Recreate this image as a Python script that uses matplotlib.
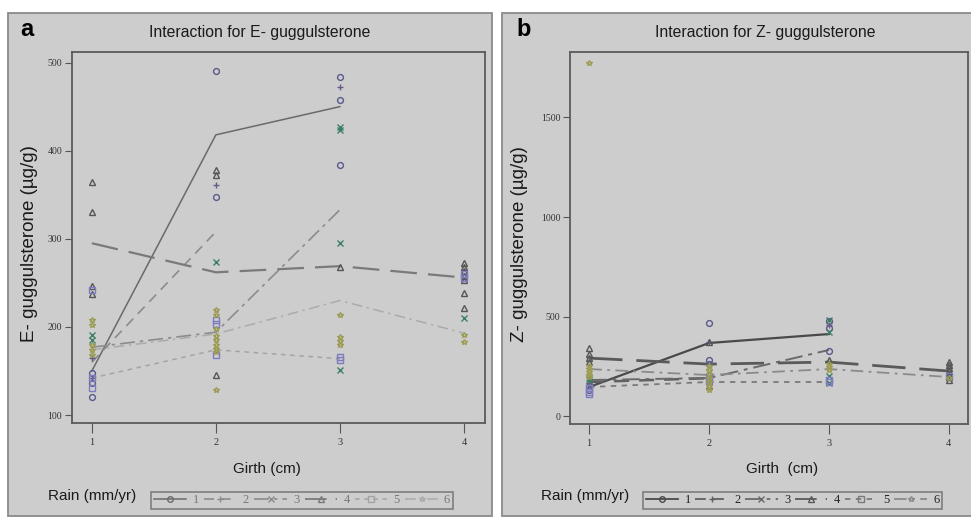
import matplotlib
matplotlib.use("Agg")
import matplotlib.pyplot as plt
from matplotlib.patches import Rectangle
from matplotlib.lines import Line2D

# ---------------- data ----------------
GIRTH = [1, 2, 3, 4]
RAIN_LABELS = ["1", "2", "3", "4", "5", "6"]

# E-guggulsterone: mean lines per rain level (girth levels, means)
E_MEAN_X = [[1, 2, 3], [1, 2], [1, 2, 3], [1, 2, 3, 4], [1, 2, 3], [1, 2, 3, 4]]
E_MEAN_R1 = [150, 418, 450]
E_MEAN_R2 = [160, 308]
E_MEAN_R3 = [177, 194, 333]
E_MEAN_R4 = [295, 262, 269, 256]
E_MEAN_R5 = [142, 174, 164]
E_MEAN_R6 = [174, 192, 230, 193]

# E-guggulsterone: individual observations per rain level
E_OBS_R1_X = [1, 1, 1, 2, 2, 3, 3, 3]
E_OBS_R1_Y = [148, 136, 120, 490, 348, 484, 457, 384]
E_OBS_R2_X = [1, 1, 2, 3]
E_OBS_R2_Y = [165, 142, 361, 472]
E_OBS_R3_X = [1, 1, 2, 3, 3, 3, 3, 4]
E_OBS_R3_Y = [191, 185, 274, 427, 424, 295, 151, 210]
E_OBS_R4_X = [1, 1, 1, 1, 2, 2, 2, 3, 4, 4, 4, 4, 4, 4, 4]
E_OBS_R4_Y = [364, 330, 246, 237, 378, 372, 145, 268, 273, 268, 263, 258, 253, 238, 222]
E_OBS_R5_X = [1, 1, 1, 2, 2, 2, 3, 3, 4, 4]
E_OBS_R5_Y = [142, 131, 242, 208, 203, 168, 166, 162, 260, 255]
E_OBS_R6_X = [1, 1, 1, 1, 1, 2, 2, 2, 2, 2, 2, 2, 2, 2, 3, 3, 3, 3, 4, 4]
E_OBS_R6_Y = [208, 202, 180, 174, 168, 219, 213, 198, 190, 185, 180, 175, 172, 128,
              214, 189, 184, 180, 191, 183]

# Z-guggulsterone: mean lines per rain level
Z_MEAN_X = [[1, 2, 3], [1, 2], [1, 2, 3], [1, 2, 3, 4], [1, 2, 3], [1, 2, 3, 4]]
Z_MEAN_R1 = [146, 367, 412]
Z_MEAN_R2 = [171, 190]
Z_MEAN_R3 = [181, 191, 332]
Z_MEAN_R4 = [291, 261, 271, 226]
Z_MEAN_R5 = [146, 171, 171]
Z_MEAN_R6 = [236, 206, 236, 196]

# Z-guggulsterone: individual observations per rain level
Z_OBS_R1_X = [1, 1, 2, 2, 2, 3, 3, 3]
Z_OBS_R1_Y = [150, 130, 467, 281, 261, 475, 440, 327]
Z_OBS_R2_X = [1, 2, 3]
Z_OBS_R2_Y = [165, 372, 455]
Z_OBS_R3_X = [1, 1, 2, 2, 3, 3, 3, 3]
Z_OBS_R3_Y = [190, 180, 220, 190, 482, 420, 200, 165]
Z_OBS_R4_X = [1, 1, 1, 1, 2, 2, 3, 4, 4, 4, 4, 4, 4, 4]
Z_OBS_R4_Y = [340, 310, 290, 270, 372, 150, 280, 271, 255, 240, 225, 210, 195, 181]
Z_OBS_R5_X = [1, 1, 1, 2, 2, 3, 3, 4]
Z_OBS_R5_Y = [140, 120, 110, 200, 175, 180, 170, 200]
Z_OBS_R6_X = [1, 1, 1, 1, 1, 1, 2, 2, 2, 2, 2, 2, 2, 3, 3, 3, 4]
Z_OBS_R6_Y = [1776, 250, 235, 220, 205, 195, 250, 230, 210, 190, 170, 150, 130, 260, 245, 230, 190]

E_YTICKS = [100, 200, 300, 400, 500]
Z_YTICKS = [0, 500, 1000, 1500]

# ---------------- styles ----------------
MARKERS = ["o", "+", "x", "^", "s", "*"]
MCOLORS = ["#5a5a8c", "#6a5a8a", "#3f7f66", "#555555", "#7c7cc0", "#9c9c55"]
LSTYLES = ["-", (0, (6, 4)), (0, (9, 3, 2, 3)), (0, (12, 5)), (0, (3, 3)), (0, (7, 3, 1.5, 3))]
E_LCOLORS = ["#6a6a6a", "#8c8c8c", "#8c8c8c", "#7a7a7a", "#a4a4a4", "#ababab"]
E_LWIDTHS = [1.1, 1.2, 1.2, 1.6, 1.1, 1.1]
Z_LCOLORS = ["#4a4a4a", "#606060", "#6a6a6a", "#5a5a5a", "#7a7a7a", "#8a8a8a"]
Z_LWIDTHS = [1.6, 1.8, 1.4, 2.0, 1.3, 1.3]

BG = "#cdcdcd"
SANS = ["Liberation Sans", "DejaVu Sans"]
SERIF = ["Liberation Serif", "DejaVu Serif"]

W, H = 971, 518
fig = plt.figure(figsize=(W / 100, H / 100), dpi=100)
fig.patch.set_facecolor("white")


def fx(px):
    return px / W


def fy(py):
    return 1 - py / H


# panel backgrounds
fig.patches.append(Rectangle((fx(8), fy(516)), fx(492) - fx(8), fy(13) - fy(516),
                             transform=fig.transFigure, facecolor=BG, edgecolor="#8a8a8a",
                             lw=1.3, zorder=-5))
fig.patches.append(Rectangle((fx(502), fy(516)), fx(975) - fx(502), fy(13) - fy(516),
                             transform=fig.transFigure, facecolor=BG, edgecolor="#8a8a8a",
                             lw=1.3, zorder=-5))


def draw_panel(ax, mean_x, means, obs, lcolors, lwidths, yticks, ylim, xlim):
    ax.set_facecolor(BG)
    for i in range(6):
        ax.plot(mean_x[i], means[i], color=lcolors[i], ls=LSTYLES[i], lw=lwidths[i], zorder=2)
    for i in range(6):
        xs, ys = obs[i]
        ax.plot(xs, ys, ls="none", marker=MARKERS[i], ms=4.2,
                mfc="none", mec=MCOLORS[i], mew=1.0, zorder=3)
    ax.set_xlim(*xlim)
    ax.set_ylim(*ylim)
    ax.set_xticks(GIRTH)
    ax.set_xticklabels([str(g) for g in GIRTH], fontfamily=SERIF, fontsize=7.5, color="#333333")
    ax.set_yticks(yticks)
    ax.set_yticklabels([str(t) for t in yticks], fontfamily=SERIF, fontsize=7, color="#333333")
    ax.tick_params(axis="x", length=7, width=0.8, color="#555555", pad=4)
    ax.tick_params(axis="y", length=5, width=0.8, color="#555555", pad=2)
    for s in ax.spines.values():
        s.set_color("#5a5a5a")
        s.set_linewidth(1.3)


axL = fig.add_axes([fx(72), fy(423), fx(485) - fx(72), fy(52) - fy(423)])
draw_panel(axL, E_MEAN_X,
           [E_MEAN_R1, E_MEAN_R2, E_MEAN_R3, E_MEAN_R4, E_MEAN_R5, E_MEAN_R6],
           [(E_OBS_R1_X, E_OBS_R1_Y), (E_OBS_R2_X, E_OBS_R2_Y), (E_OBS_R3_X, E_OBS_R3_Y),
            (E_OBS_R4_X, E_OBS_R4_Y), (E_OBS_R5_X, E_OBS_R5_Y), (E_OBS_R6_X, E_OBS_R6_Y)],
           E_LCOLORS, E_LWIDTHS, E_YTICKS, (91, 512), (0.84, 4.17))

axR = fig.add_axes([fx(570), fy(424), fx(968) - fx(570), fy(52) - fy(424)])
draw_panel(axR, Z_MEAN_X,
           [Z_MEAN_R1, Z_MEAN_R2, Z_MEAN_R3, Z_MEAN_R4, Z_MEAN_R5, Z_MEAN_R6],
           [(Z_OBS_R1_X, Z_OBS_R1_Y), (Z_OBS_R2_X, Z_OBS_R2_Y), (Z_OBS_R3_X, Z_OBS_R3_Y),
            (Z_OBS_R4_X, Z_OBS_R4_Y), (Z_OBS_R5_X, Z_OBS_R5_Y), (Z_OBS_R6_X, Z_OBS_R6_Y)],
           Z_LCOLORS, Z_LWIDTHS, Z_YTICKS, (-40, 1829), (0.84, 4.16))

# titles & labels
fig.text(fx(260), fy(32), "Interaction for E- guggulsterone", ha="center", va="center",
         fontfamily=SANS, fontsize=11.3, color="#1a1a1a")
fig.text(fx(765), fy(32), "Interaction for Z- guggulsterone", ha="center", va="center",
         fontfamily=SANS, fontsize=11.3, color="#1a1a1a")
fig.text(fx(20), fy(30), "a", ha="left", va="center", fontfamily=SANS, fontsize=17,
         fontweight="bold", color="black")
fig.text(fx(516), fy(30), "b", ha="left", va="center", fontfamily=SANS, fontsize=17,
         fontweight="bold", color="black")
fig.text(fx(30), fy(244), "E- guggulsterone (µg/g)", rotation=90, ha="center", va="center",
         fontfamily=SANS, fontsize=13.5, color="#1a1a1a")
fig.text(fx(519), fy(244), "Z- guggulsterone (µg/g)", rotation=90, ha="center", va="center",
         fontfamily=SANS, fontsize=13.5, color="#1a1a1a")
fig.text(fx(267), fy(469), "Girth (cm)", ha="center", va="center",
         fontfamily=SANS, fontsize=11, color="#1a1a1a")
fig.text(fx(782), fy(469), "Girth  (cm)", ha="center", va="center",
         fontfamily=SANS, fontsize=11, color="#1a1a1a")
fig.text(fx(48), fy(496), "Rain (mm/yr)", ha="left", va="center",
         fontfamily=SANS, fontsize=11, color="#1a1a1a")
fig.text(fx(541), fy(496), "Rain (mm/yr)", ha="left", va="center",
         fontfamily=SANS, fontsize=11, color="#1a1a1a")


def make_legend(x0, x1, y0, y1, lcolors, lwidths, text_color):
    handles = [Line2D([0], [0], color=lcolors[i], ls=LSTYLES[i], lw=min(lwidths[i], 1.3),
                      marker=MARKERS[i], ms=4, mfc="none", mec=lcolors[i])
               for i in range(6)]
    leg = fig.legend(handles, RAIN_LABELS, ncol=6, loc="center",
                     bbox_to_anchor=(fx(x0), fy(y1), fx(x1) - fx(x0), fy(y0) - fy(y1)),
                     mode="expand", frameon=True, fancybox=False, handlelength=2.6,
                     handletextpad=0.5, columnspacing=0.8, borderpad=0.2,
                     prop={"family": SERIF, "size": 9})
    fr = leg.get_frame()
    fr.set_edgecolor("#6a6a6a")
    fr.set_facecolor(BG)
    fr.set_linewidth(1.2)
    for t in leg.get_texts():
        t.set_color(text_color)
    return leg


make_legend(145, 459, 489, 511, E_LCOLORS, E_LWIDTHS, "#777777")
make_legend(637, 948, 489, 511, Z_LCOLORS, Z_LWIDTHS, "#222222")

fig.savefig("out.png", dpi=100, facecolor="white")
